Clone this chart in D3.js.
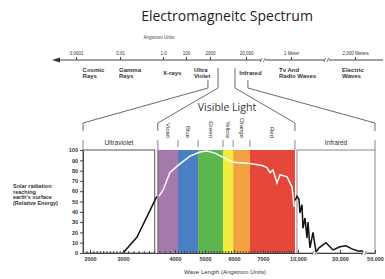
<!DOCTYPE html>
<html lang="en">
<head>
<meta charset="UTF-8">
<title>Electromagnetic Spectrum</title>
<script src="https://d3js.org/d3.v7.min.js"></script>
<style>
  body { margin: 0; background: #fff; }
  svg { display: block; font-family: "Liberation Sans", Arial, sans-serif; }
  .axis text { fill: #333; }
  .axis line, .axis path { stroke: #444; }
</style>
</head>
<body>
<svg id="chart" width="385" height="279"></svg>
<script>
// top spectrum strip (angstrom units, log)
const topTickValues = [1e-4, 1e-2, 1, 100, 2000, 20000, 1e10, 2e13];
const topTickLabels = ["0.0001", "0.01", "1.0", "100", "2000", "20,000", "1 Meter", "2,000 Meters"];
const topBandNames = [["Cosmic", "Rays"], ["Gamma", "Rays"], ["X-rays"], ["Ultra", "Violet"], ["Infrared"], ["Tv And", "Radio Waves"], ["Electric", "Waves"]];
const topBandStart = [2e-4, 0.009, 1, 270, 13000, 3e8, 4.3e12];
const topBreaks = [3e6, 7e11];

// bracket lines: top end (top scale) -> bottom end (chart scale)
const bracketTop = [1550, 3340, 9900, 35000];
const bracketBottom = [1800, 3670, 9740, 50000];

// visible bands
const bandNames = ["Violet", "Blue", "Green", "Yellow", "Orange", "Red"];
const bandEdges = [3670, 4100, 4770, 5620, 5970, 6550, 9740];
const bandColors = ["#a679ac", "#4a7fc6", "#5cb54f", "#f2ec3c", "#f2a23e", "#e5483b"];
const uvRange = [1800, 3610];
const irRange = [9910, 50000];

const xTickValues = [2000, 3000, 4000, 5000, 6000, 7000, 10000, 30000, 50000];
const yTickValues = [0, 10, 20, 30, 40, 50, 60, 70, 80, 90, 100];
const axisBreaks = [18000, 44000];

// solar radiation at earth's surface [wavelength, relative energy]
const uvCurve = [[3000, 0], [3270, 15.5], [3650, 55]];
const visCurve = [[3690, 55], [3770, 61], [3900, 78], [4100, 85], [4500, 94], [4830, 98], [5070, 99],
  [5340, 97], [5620, 93], [5970, 88], [6550, 87], [6970, 85], [7340, 83], [7600, 78], [7860, 80.5],
  [8200, 68], [8460, 76], [9060, 74], [9490, 64], [9660, 45]];
const irCurve = [[9743, 51], [9914, 55], [10476, 52], [10950, 39], [11900, 47], [12380, 24], [13330, 34],
  [14290, 14.5], [14760, 30], [15710, 5], [17140, 20], [18570, 1], [20000, 5], [23330, 10],
  [26670, 3], [30000, 6], [33430, 7], [36860, 4], [40290, 2], [43140, 2]];

const svg = d3.select("#chart");

const topX = d3.scaleLog().domain(topTickValues).range([76, 120, 163, 186, 210, 246, 291, 355]);
const x = d3.scaleLinear()
  .domain([1800, 2000, 3000, 4000, 5000, 6000, 7000, 10000, 30000, 50000])
  .range([83, 90, 123, 175, 205, 234, 263, 298, 340, 375]);
const y = d3.scaleLinear().domain([0, 100]).range([253, 150]);

// title
svg.append("text")
  .attr("x", 227).attr("y", 21)
  .attr("text-anchor", "middle")
  .style("font-family", "'Open Sans', sans-serif")
  .style("font-size", "14px")
  .attr("fill", "#222")
  .text("Electromagneitc Spectrum");

// top axis
const topY = 60;
svg.append("line").attr("x1", 58).attr("x2", 383).attr("y1", topY).attr("y2", topY)
  .attr("stroke", "#444").attr("stroke-width", 1);
svg.append("path").attr("d", `M52,${topY} L60,${topY - 2.5} L60,${topY + 2.5} Z`).attr("fill", "#333");

const topAxis = svg.append("g").attr("class", "axis")
  .attr("transform", `translate(0,${topY})`)
  .call(d3.axisTop(topX).tickValues(topTickValues).tickFormat((d, i) => topTickLabels[i]).tickSize(3).tickPadding(2));
topAxis.select(".domain").remove();
topAxis.selectAll("text").style("font-size", "4.5px");

svg.append("text").attr("x", 159).attr("y", 39).attr("text-anchor", "middle")
  .style("font-size", "4.5px").attr("fill", "#444").text("Angstrom Units");

topBreaks.forEach(b => {
  const bx = topX(b);
  svg.append("rect").attr("x", bx - 2).attr("y", topY - 1).attr("width", 4).attr("height", 2).attr("fill", "#fff");
  svg.append("path").attr("d", `M${bx - 3},${topY + 2} L${bx - 1},${topY - 2} M${bx},${topY + 2} L${bx + 2},${topY - 2}`)
    .attr("stroke", "#444").attr("stroke-width", 0.7);
});

topBandNames.forEach((lines, i) => {
  const t = svg.append("text")
    .attr("x", topX(topBandStart[i]))
    .attr("y", lines.length > 1 ? 71.5 : 74.5)
    .style("font-size", "6px").style("font-weight", "bold").attr("fill", "#333");
  lines.forEach((l, j) => t.append("tspan").attr("x", topX(topBandStart[i])).attr("dy", j ? 6 : 0).text(l));
});

// brackets from top strip down to chart
bracketTop.forEach((t, i) => {
  const xt = topX(t), xb = x(bracketBottom[i]);
  const yStart = (i === 0 || i === 3) ? 80 : 68;
  svg.append("path")
    .attr("d", `M${xt},${yStart} L${xt},88 L${xb},123 L${xb},131`)
    .attr("fill", "none").attr("stroke", "#444").attr("stroke-width", 0.8);
});

svg.append("text").attr("x", 227).attr("y", 111).attr("text-anchor", "middle")
  .style("font-family", "'Open Sans', sans-serif").style("font-size", "10.5px")
  .attr("fill", "#333").text("Visible Light");

// coloured bands
const bands = bandNames.map((n, i) => ({ name: n, x0: bandEdges[i], x1: bandEdges[i + 1], color: bandColors[i] }));

svg.selectAll("rect.band")
  .data(bands)
  .enter().append("rect")
  .attr("class", "band")
  .attr("x", d => x(d.x0))
  .attr("width", d => x(d.x1) - x(d.x0))
  .attr("y", y(100))
  .attr("height", y(0) - y(100))
  .attr("fill", d => d.color);

svg.append("line").attr("x1", x(bandEdges[0])).attr("x2", x(bandEdges[0]))
  .attr("y1", y(100)).attr("y2", y(0)).attr("stroke", "#555").attr("stroke-width", 0.8);

svg.selectAll("text.band")
  .data(bands)
  .enter().append("text")
  .attr("class", "band")
  .attr("transform", d => `translate(${(x(d.x0) + x(d.x1)) / 2},138) rotate(90)`)
  .attr("text-anchor", "end")
  .attr("dominant-baseline", "central")
  .style("font-size", "6px").attr("fill", "#333")
  .text(d => d.name);

// header ticks
const headerTicks = bandEdges.slice(1, -1);
svg.selectAll("line.htick")
  .data(headerTicks)
  .enter().append("line")
  .attr("class", "htick")
  .attr("x1", d => x(d)).attr("x2", d => x(d))
  .attr("y1", 140).attr("y2", 147)
  .attr("stroke", "#555").attr("stroke-width", 0.7);

[uvRange[0], bandEdges[0], bandEdges[bandEdges.length - 1], irRange[1]].forEach(v => {
  svg.append("line").attr("x1", x(v)).attr("x2", x(v)).attr("y1", 140).attr("y2", 150)
    .attr("stroke", "#555").attr("stroke-width", 0.7);
});

// UV and IR boxes
svg.append("rect")
  .attr("x", x(uvRange[0])).attr("width", x(uvRange[1]) - x(uvRange[0]))
  .attr("y", y(100)).attr("height", y(0) - y(100))
  .attr("fill", "#fff").attr("stroke", "#555").attr("stroke-width", 1);
svg.append("rect")
  .attr("x", x(irRange[0])).attr("width", x(irRange[1]) - x(irRange[0]))
  .attr("y", y(100)).attr("height", y(0) - y(100))
  .attr("fill", "#fff").attr("stroke", "#888").attr("stroke-width", 1);

svg.append("text").attr("x", (x(uvRange[0]) + x(uvRange[1])) / 2).attr("y", 145)
  .attr("text-anchor", "middle").style("font-size", "6.5px").attr("fill", "#333").text("Ultraviolet");
svg.append("text").attr("x", (x(irRange[0]) + x(irRange[1])) / 2).attr("y", 145)
  .attr("text-anchor", "middle").style("font-size", "6.5px").attr("fill", "#333").text("Infrared");

// curve
const line = d3.line().x(d => x(d[0])).y(d => y(d[1]));
svg.append("path").datum(uvCurve).attr("d", line)
  .attr("fill", "none").attr("stroke", "#111").attr("stroke-width", 1.5);
svg.append("path").datum(visCurve).attr("d", line)
  .attr("fill", "none").attr("stroke", "#fff").attr("stroke-width", 1.5);
svg.append("path").datum(irCurve).attr("d", line)
  .attr("fill", "none").attr("stroke", "#111").attr("stroke-width", 1.5);

// y axis
const yAxis = svg.append("g").attr("class", "axis")
  .attr("transform", `translate(${x(uvRange[0])},0)`)
  .call(d3.axisLeft(y).tickValues(yTickValues).tickSize(3).tickPadding(2).tickSizeOuter(0));
yAxis.selectAll("text").style("font-size", "5.5px").style("font-weight", "bold");

// x axis
const xAxis = svg.append("g").attr("class", "axis")
  .attr("transform", `translate(0,${y(0)})`)
  .call(d3.axisBottom(x).tickValues(xTickValues).tickSizeInner(-3).tickSizeOuter(0).tickPadding(4)
    .tickFormat(d => d >= 10000 ? d3.format(",")(d) : d));
xAxis.selectAll("text").style("font-size", "5.5px").style("font-weight", "bold");

const minorTicks = d3.range(1900, 7000, 100).concat(d3.range(7000, 9800, 200));
svg.append("g").attr("class", "axis")
  .attr("transform", `translate(0,${y(0)})`)
  .call(d3.axisBottom(x).tickValues(minorTicks).tickSize(-2).tickFormat(""))
  .select(".domain").remove();

axisBreaks.forEach(b => {
  const bx = x(b), by = y(0);
  svg.append("rect").attr("x", bx - 2).attr("y", by - 1).attr("width", 4).attr("height", 2).attr("fill", "#fff");
  svg.append("path").attr("d", `M${bx - 3},${by + 2} L${bx - 1},${by - 2} M${bx},${by + 2} L${bx + 2},${by - 2}`)
    .attr("stroke", "#444").attr("stroke-width", 0.7);
});

svg.append("text").attr("x", 225).attr("y", 274).attr("text-anchor", "middle")
  .style("font-size", "6px").attr("fill", "#333").text("Wave Length (Angstrom Units)");

// y label
const yLabel = ["Solar radiation", "reaching", "earth's surface", "(Relative Energy)"];
const yl = svg.append("text").attr("x", 13).attr("y", 188)
  .style("font-size", "5.5px").style("font-weight", "bold").attr("fill", "#333");
yLabel.forEach((l, i) => yl.append("tspan").attr("x", 13).attr("dy", i ? 5.5 : 0).text(l));
</script>
</body>
</html>
